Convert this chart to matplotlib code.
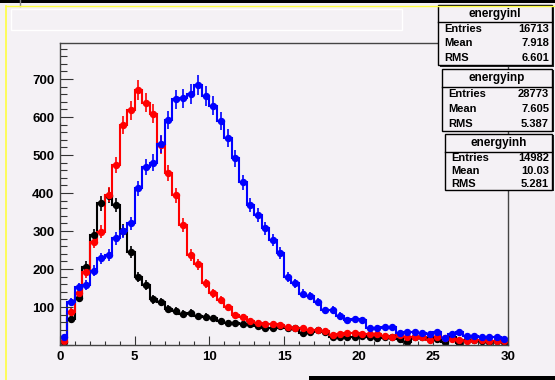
import numpy as np
import matplotlib
matplotlib.use("Agg")
import matplotlib.pyplot as plt
from matplotlib.patches import Rectangle
from matplotlib.lines import Line2D

# bin contents, 60 bins of width 0.5 from 0 to 30
edges = np.linspace(0, 30, 61)

black = [9, 68, 125, 206, 289, 373, 393, 368, 301, 246, 178, 158, 120, 114, 96,
         90, 82, 85, 76, 75, 70, 64, 59, 59, 54, 56, 50, 44, 46, 50,
         46, 44, 32, 35, 39, 35, 22, 21, 21, 22, 23, 22, 18, 22, 20,
         16, 9, 22, 22, 18, 15, 9, 22, 6, 14, 12, 10, 8, 10, 9]

red = [10, 88, 136, 191, 272, 298, 396, 474, 579, 618, 672, 638, 609, 526, 452,
       394, 316, 237, 213, 162, 136, 118, 99, 79, 74, 62, 57, 56, 55, 53,
       48, 44, 44, 39, 39, 37, 26, 30, 31, 31, 30, 28, 29, 24, 22,
       27, 21, 22, 21, 13, 22, 19, 17, 13, 11, 13, 12, 10, 10, 10]

blue = [22, 114, 152, 158, 196, 228, 237, 281, 299, 320, 412, 469, 480, 529, 592,
        647, 649, 661, 684, 655, 630, 590, 545, 492, 428, 368, 342, 307, 276, 243,
        180, 162, 135, 129, 114, 91, 92, 77, 65, 68, 66, 45, 45, 47, 47,
        32, 34, 34, 32, 28, 34, 18, 28, 33, 24, 25, 22, 22, 20, 16]

# stats boxes
hist_names = ["energyinl", "energyinp", "energyinh"]
entries = ["16713", "28773", "14982"]
means = ["7.918", "7.605", "10.03"]
rmss = ["6.601", "5.387", "5.281"]

xticks = [0, 5, 10, 15, 20, 25, 30]
yticks = [100, 200, 300, 400, 500, 600, 700]

W, H = 555, 380
bg = "#f4f1f5"
font = "Liberation Sans"


def fx(x):
    return x / W


def fy(y):
    return 1 - y / H


fig = plt.figure(figsize=(W / 100, H / 100), dpi=100, facecolor=bg)

ax = fig.add_axes([fx(60), fy(345), fx(508) - fx(60), fy(43) - fy(345)])
ax.set_facecolor(bg)

centers = 0.5 * (edges[:-1] + edges[1:])
for vals, col in [(black, "black"), (red, "red"), (blue, "blue")]:
    v = np.array(vals, dtype=float)
    ax.stairs(v, edges, color=col, lw=1.5, baseline=0)
    ax.errorbar(centers, v, yerr=np.sqrt(v), fmt="o", color=col, ms=4.3,
                elinewidth=1.2, capsize=0)

ax.set_xlim(0, 30)
ax.set_ylim(0, 795)
ax.set_xticks(xticks)
ax.set_xticks(np.arange(0, 31, 1), minor=True)
ax.set_yticks([0] + yticks)
ax.set_yticklabels([""] + [str(t) for t in yticks])
ax.set_yticks(np.arange(0, 791, 20), minor=True)
ax.tick_params(axis="y", which="major", direction="in", length=9.5, width=0.8,
               color="#333333", pad=4)
ax.tick_params(axis="y", which="minor", direction="in", length=4.7, width=0.8,
               color="#333333")
ax.tick_params(axis="x", which="major", direction="in", length=6.5, width=0.8,
               color="#333333", pad=4)
ax.tick_params(axis="x", which="minor", direction="in", length=3.2, width=0.8,
               color="#333333")
for lab in ax.get_xticklabels() + ax.get_yticklabels():
    lab.set_fontfamily(font)
    lab.set_fontweight("bold")
    lab.set_fontsize(9.5)
for s in ax.spines.values():
    s.set_color("#444444")
    s.set_linewidth(1)

# canvas decorations
fig.add_artist(Rectangle((0, fy(2.5)), 1, fy(0) - fy(2.5), transform=fig.transFigure,
                         facecolor="black", edgecolor="none"))
fig.add_artist(Line2D([fx(20), fx(20)], [fy(0), fy(6)], transform=fig.transFigure,
                      color="#888888", lw=1))
fig.add_artist(Line2D([fx(5.5), fx(5.5)], [fy(380), fy(5.5)], transform=fig.transFigure,
                      color="#ffff40", lw=1.2))
fig.add_artist(Line2D([fx(5.5), fx(555)], [fy(5.5), fy(5.5)], transform=fig.transFigure,
                      color="#ffff40", lw=1.0))
fig.add_artist(Rectangle((fx(10.5), fy(30)), fx(402) - fx(10.5), fy(9) - fy(30),
                         transform=fig.transFigure, facecolor="none",
                         edgecolor="white", lw=1))
fig.add_artist(Rectangle((fx(309), 0), 1 - fx(309), fy(376), transform=fig.transFigure,
                         facecolor="black", edgecolor="none"))


def stats_box(x0, y0, x1, y1, yline, name, ent, mean, rms):
    fig.add_artist(Rectangle((fx(x0 + 1.5), fy(y1 + 1.5)), fx(x1) - fx(x0), fy(y0) - fy(y1),
                             transform=fig.transFigure, facecolor="#222222",
                             edgecolor="none"))
    fig.add_artist(Rectangle((fx(x0), fy(y1)), fx(x1) - fx(x0), fy(y0) - fy(y1),
                             transform=fig.transFigure, facecolor=bg,
                             edgecolor="black", lw=1))
    fig.add_artist(Line2D([fx(x0), fx(x1)], [fy(yline), fy(yline)],
                          transform=fig.transFigure, color="black", lw=1))
    fig.text(fx((x0 + x1) / 2), fy((y0 + yline) / 2), name, ha="center", va="center",
             fontsize=8.5, fontweight="bold", family=font)
    step = (y1 - yline) / 3
    for k, (lab, val) in enumerate([("Entries", ent), ("Mean", mean), ("RMS", rms)]):
        yy = fy(yline + step * (k + 0.5))
        fig.text(fx(x0 + 6), yy, lab, ha="left", va="center", fontsize=8,
                 fontweight="bold", family=font)
        fig.text(fx(x1 - 3), yy, val, ha="right", va="center", fontsize=8,
                 fontweight="bold", family=font)


stats_box(438, 5, 552, 65, 22, hist_names[0], entries[0], means[0], rmss[0])
stats_box(442, 69, 552, 131, 87, hist_names[1], entries[1], means[1], rmss[1])
stats_box(445, 134, 552, 190, 152, hist_names[2], entries[2], means[2], rmss[2])

fig.savefig("out.png", dpi=100, facecolor=bg)
